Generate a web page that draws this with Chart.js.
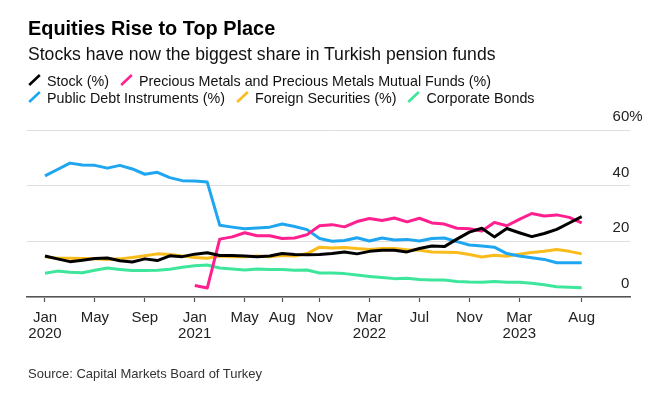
<!DOCTYPE html>
<html>
<head>
<meta charset="utf-8">
<script src="https://cdn.jsdelivr.net/npm/chart.js@4"></script>
<style>
  html, body { margin: 0; padding: 0; background: #fff; }
  body { width: 660px; height: 401px; overflow: hidden; font-family: "Liberation Sans", Arial, Helvetica, sans-serif; }
  #wrap { position: relative; width: 660px; height: 401px; }
  #c { position: absolute; left: 0; top: 0; }
  .txt { position: absolute; left: 28px; white-space: nowrap; }
  #title { top: 19.2px; font-size: 19.9px; line-height: 19.9px; font-weight: bold; color: #000; }
  #subtitle { top: 46.1px; font-size: 17.6px; line-height: 17.6px; color: #111; }
  .lrow { position: absolute; left: 28px; display: flex; align-items: center; font-size: 14.3px; line-height: 14.3px; color: #111; white-space: nowrap; }
  .litem { display: flex; align-items: center; margin-right: 11px; }
  .litem svg { margin-right: 6px; position: relative; top: -1px; }
  #source { top: 367.3px; font-size: 13px; line-height: 13px; color: #333; }
</style>
</head>
<body>
<div id="wrap">
  <canvas id="c" width="660" height="401"></canvas>
  <div id="title" class="txt">Equities Rise to Top Place</div>
  <div id="subtitle" class="txt">Stocks have now the biggest share in Turkish pension funds</div>
  <div id="legend"></div>
  <div id="source" class="txt">Source: Capital Markets Board of Turkey</div>
</div>
<script>
// Months Jan 2020 .. Aug 2023
const months = [
  "2020-01","2020-02","2020-03","2020-04","2020-05","2020-06","2020-07","2020-08","2020-09","2020-10","2020-11","2020-12",
  "2021-01","2021-02","2021-03","2021-04","2021-05","2021-06","2021-07","2021-08","2021-09","2021-10","2021-11","2021-12",
  "2022-01","2022-02","2022-03","2022-04","2022-05","2022-06","2022-07","2022-08","2022-09","2022-10","2022-11","2022-12",
  "2023-01","2023-02","2023-03","2023-04","2023-05","2023-06","2023-07","2023-08"
];

const seriesNames = [
  "Stock (%)",
  "Precious Metals and Precious Metals Mutual Funds (%)",
  "Public Debt Instruments (%)",
  "Foreign Securities (%)",
  "Corporate Bonds"
];
const seriesColors = ["#000000", "#FF1F8E", "#1EA6F1", "#F9BC1C", "#3DE69A"];

const stock = [14.7,13.7,12.7,13.2,13.8,14.0,13.0,12.6,13.7,13.1,14.8,14.5,
  15.4,15.9,14.9,14.9,14.7,14.5,14.7,15.6,15.3,15.2,15.3,15.6,
  16.2,15.5,16.4,16.8,16.8,16.2,17.4,18.3,18.1,20.8,23.3,24.7,
  21.6,24.6,23.1,21.7,22.8,24.3,26.6,28.9];
const preciousMetals = [null,null,null,null,null,null,null,null,null,null,null,null,
  4.1,3.2,20.8,21.6,23.1,22.0,22.0,21.0,21.2,22.4,25.6,26.0,
  25.2,27.1,28.2,27.5,28.4,27.0,28.3,26.6,26.2,24.7,24.5,23.7,
  26.8,25.6,27.9,30.0,29.1,29.5,28.6,26.6];
const publicDebt = [43.5,45.8,48.1,47.4,47.3,46.3,47.3,46.0,44.1,44.8,42.9,41.8,
  41.7,41.3,25.8,25.1,24.5,24.8,25.1,26.2,25.3,24.2,21.0,20.0,
  20.3,21.3,20.1,21.2,20.5,20.7,20.1,21.0,21.2,19.9,18.7,18.3,
  17.9,15.6,14.7,14.1,13.5,12.3,12.3,12.3];
const foreignSecurities = [14.5,13.9,13.9,13.8,13.7,13.5,13.7,14.2,14.8,15.5,15.3,14.7,
  14.2,13.9,14.7,14.5,14.5,14.7,14.5,14.9,14.7,15.6,17.9,17.6,
  17.8,17.4,17.1,17.4,17.4,17.0,16.8,16.2,16.1,16.0,15.3,14.4,
  15.0,14.6,15.4,16.0,16.4,17.1,16.4,15.5];
const corporateBonds = [8.5,9.3,8.9,8.7,9.6,10.4,9.9,9.5,9.5,9.6,10.0,10.7,
  11.2,11.5,10.4,10.1,9.7,10.1,9.9,9.9,9.6,9.7,8.6,8.6,
  8.4,7.9,7.4,7.0,6.6,6.7,6.3,6.1,6.1,5.6,5.4,5.3,
  5.6,5.3,5.3,4.9,4.4,3.7,3.5,3.3];

const seriesValues = [stock, preciousMetals, publicDebt, foreignSecurities, corporateBonds];

// x-axis tick labels
const xTickMonths = ["2020-01","2020-05","2020-09","2021-01","2021-05","2021-08","2021-11","2022-03","2022-07","2022-11","2023-03","2023-08"];
const xTickLabels = [["Jan","2020"],"May","Sep",["Jan","2021"],"May","Aug","Nov",["Mar","2022"],"Jul","Nov",["Mar","2023"],"Aug"];
const yTickValues = [0, 20, 40, 60];
const yTickLabels = ["0", "20", "40", "60"];

// Legend (HTML)
const legendRows = [[0, 1], [2, 3, 4]];
const legendTops = [73.8, 91.1];
const legendEl = document.getElementById('legend');
legendRows.forEach((row, r) => {
  const rowEl = document.createElement('div');
  rowEl.className = 'lrow';
  rowEl.style.top = legendTops[r] + 'px';
  row.forEach(i => {
    const it = document.createElement('div');
    it.className = 'litem';
    it.innerHTML = '<svg width="13" height="12" viewBox="0 0 13 12"><line x1="1.2" y1="11" x2="11.8" y2="1" stroke="' + seriesColors[i] + '" stroke-width="2.6" stroke-linecap="butt"/></svg><span></span>';
    it.querySelector('span').textContent = seriesNames[i];
    rowEl.appendChild(it);
  });
  legendEl.appendChild(rowEl);
});

const FONT = '"Liberation Sans", Arial, Helvetica, sans-serif';
Chart.defaults.font.family = FONT;

const yLabelPlugin = {
  id: 'yLabels',
  afterDraw(chart) {
    const ctx = chart.ctx;
    const ys = chart.scales.y;
    const right = chart.chartArea.right - 0.7;
    ctx.save();
    ctx.font = '15px ' + FONT;
    ctx.fillStyle = '#222';
    ctx.textBaseline = 'middle';
    yTickValues.forEach((v, k) => {
      const py = ys.getPixelForValue(v) - 13;
      ctx.textAlign = 'right';
      ctx.fillText(yTickLabels[k], right, py);
      if (k === yTickValues.length - 1) {
        ctx.textAlign = 'left';
        ctx.fillText('%', right, py);
      }
    });
    ctx.restore();
  }
};

const xTickIdx = xTickMonths.map(m => months.indexOf(m));

new Chart(document.getElementById('c'), {
  type: 'line',
  data: {
    datasets: seriesValues.map((vals, i) => ({
      label: seriesNames[i],
      data: vals.map((v, j) => ({ x: j, y: v })),
      borderColor: seriesColors[i],
      backgroundColor: seriesColors[i],
      borderWidth: 3,
      pointRadius: 0,
      pointHoverRadius: 0,
      tension: 0,
      spanGaps: false,
      borderJoinStyle: 'round',
      borderCapStyle: 'butt'
    }))
  },
  options: {
    responsive: false,
    animation: false,
    devicePixelRatio: 1,
    layout: { padding: { left: 27, right: 30, top: 130, bottom: 51.4 } },
    plugins: { legend: { display: false }, tooltip: { enabled: false }, title: { display: false } },
    scales: {
      x: {
        type: 'linear',
        min: -1.44,
        max: 46.87,
        afterBuildTicks(scale) {
          scale.ticks = xTickIdx.map(v => ({ value: v }));
        },
        ticks: {
          autoSkip: false,
          maxRotation: 0,
          padding: 7,
          color: '#222',
          font: { size: 15, lineHeight: 1.12 },
          callback(value) {
            const k = xTickIdx.indexOf(value);
            return k >= 0 ? xTickLabels[k] : '';
          }
        },
        grid: { drawOnChartArea: false, drawTicks: true, tickLength: 5, tickColor: '#555', tickWidth: 1.2 },
        border: { display: true, color: '#555', width: 1.5 }
      },
      y: {
        type: 'linear',
        position: 'right',
        min: 0,
        max: 60,
        afterBuildTicks(scale) {
          scale.ticks = yTickValues.map(v => ({ value: v }));
        },
        ticks: { display: false },
        grid: { color: '#dedede', lineWidth: 1, drawTicks: false },
        border: { display: false }
      }
    }
  },
  plugins: [yLabelPlugin]
});
</script>
</body>
</html>
